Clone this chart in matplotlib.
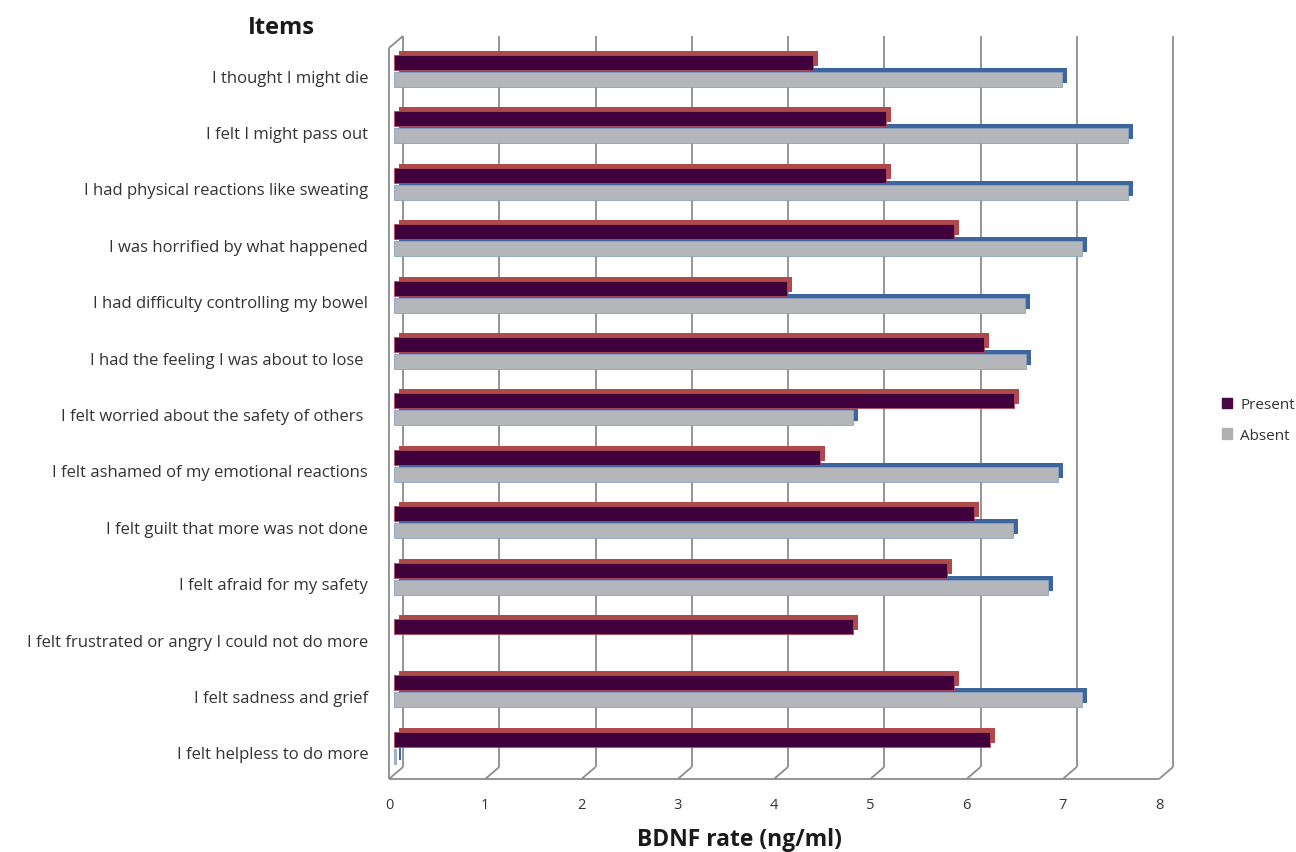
import matplotlib
matplotlib.use('Agg')
import matplotlib.pyplot as plt
import matplotlib.patches as mpatches
import numpy as np

plt.rcParams['font.family'] = ['Open Sans', 'DejaVu Sans']

items = ['I thought I might die',
         'I felt I might pass out',
         'I had physical reactions like sweating',
         'I was horrified by what happened',
         'I had difficulty controlling my bowel',
         'I had the feeling I was about to lose ',
         'I felt worried about the safety of others ',
         'I felt ashamed of my emotional reactions',
         'I felt guilt that more was not done',
         'I felt afraid for my safety',
         'I felt frustrated or angry I could not do more',
         'I felt sadness and grief',
         'I felt helpless to do more']
present = [4.35, 5.11, 5.11, 5.82, 4.08, 6.13, 6.44, 4.43, 6.03, 5.75, 4.77, 5.82, 6.19]
absent = [6.94, 7.63, 7.63, 7.15, 6.56, 6.57, 4.77, 6.90, 6.43, 6.79, np.nan, 7.15, 0.02]
xticks = [0, 1, 2, 3, 4, 5, 6, 7, 8]

W, H = 1296, 853
fig = plt.figure(figsize=(W / 100, H / 100), dpi=100)
ax = fig.add_axes([389 / W, (H - 780) / H, (1159 - 389) / W, (780 - 49) / H])
ybot, ytop = 12.553, -0.408
ax.set_xlim(0, 8)
ax.set_ylim(ybot, ytop)
for s in ax.spines.values():
    s.set_visible(False)

# pixels per data unit, used to fake the 3d depth
sx = (1159 - 389) / 8
sy = (780 - 49) / (ybot - ytop)
ddx, ddy = 14 / sx, 12 / sy
grid = '#8c8c8c'
kw = dict(color=grid, lw=1.3, clip_on=False, zorder=1, solid_capstyle='butt')

# back wall, floor and left wall
for k in xticks:
    ax.plot([k + ddx, k + ddx], [ybot - ddy, ytop - ddy], **kw)
    ax.plot([k, k + ddx], [ybot, ybot - ddy], **kw)
ax.plot([0, 8], [ybot, ybot], **kw)
ax.plot([0, 0], [ybot, ytop], **kw)
ax.plot([0, ddx], [ytop, ytop - ddy], **kw)

y = np.arange(len(items))
h = 15 / sy
off = 5 / sx
sdx, sdy = 5 / sx, 4 / sy

# depth faces are the same bars shifted up and right, drawn behind the fronts
ax.barh(y + 0.15 - sdy, absent, height=h, left=off + sdx, color='#3d659e', zorder=2)
ax.barh(y + 0.15, absent, height=h, left=off, color='#b5b6ba',
        edgecolor='#8aa2c4', lw=0.6, zorder=3)
ax.barh(y - 0.15 - sdy, present, height=h, left=off + sdx, color='#b04a4a', zorder=4)
ax.barh(y - 0.15, present, height=h, left=off, color='#40003b',
        edgecolor='#b24a5c', lw=0.6, zorder=5)

ax.set_yticks(y + 0.08)
ax.set_yticklabels(items, fontsize=12, color='#333333')
ax.set_xticks(xticks)
ax.set_xticklabels([str(k) for k in xticks], fontsize=10.5, color='#333333')
ax.tick_params(axis='y', length=0, pad=15)
ax.tick_params(axis='x', length=0, pad=13)

fig.text(739 / W, 1 - 840 / H, 'BDNF rate (ng/ml)', fontsize=16.5, fontweight='bold',
         color='#1a1a1a', ha='center', va='center')
fig.text(281 / W, 1 - 28 / H, 'Items', fontsize=17, fontweight='bold',
         color='#1a1a1a', ha='center', va='center')

handles = [mpatches.Patch(color='#4a0845', label='Present'),
           mpatches.Patch(color='#b0b0b0', label='Absent')]
fig.legend(handles=handles, loc='center left', bbox_to_anchor=(1208 / W, 1 - 421 / H),
           frameon=False, fontsize=11, handlelength=0.7, handleheight=0.7,
           handletextpad=0.5, labelspacing=1.0, labelcolor='#333333')

fig.savefig('out.png', dpi=100)
